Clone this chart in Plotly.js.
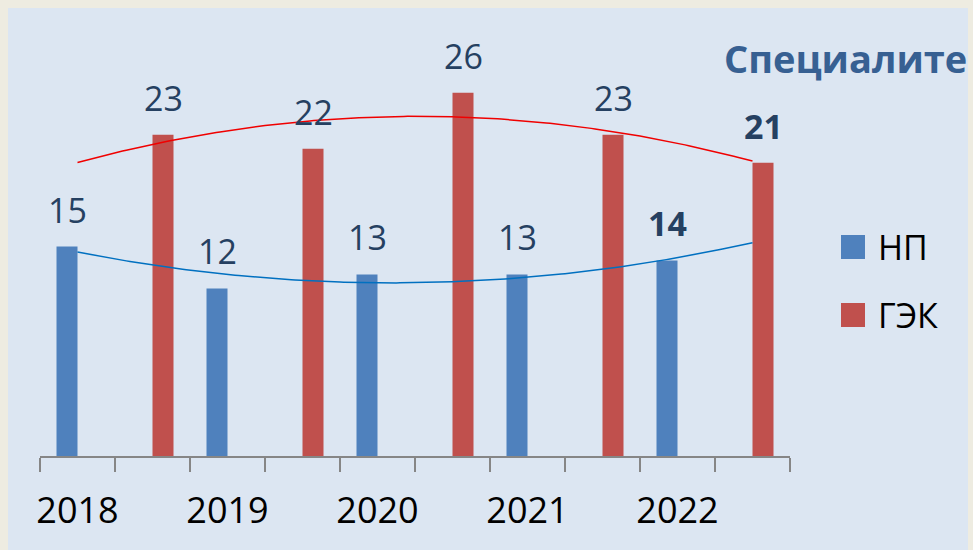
<!DOCTYPE html>
<html>
<head>
<meta charset="utf-8">
<script src="https://cdn.plot.ly/plotly-3.0.1.min.js"></script>
<style>
  html, body { margin: 0; padding: 0; background: #eeece1; width: 973px; height: 550px; overflow: hidden; }
  #chart { position: absolute; left: 8px; top: 8px; width: 960px; height: 542px; overflow: hidden; }
</style>
</head>
<body>
<div id="chart"></div>
<script>
// ---- data ----
const years = ['2018', '2019', '2020', '2021', '2022'];
const npName = 'НП';
const gekName = 'ГЭК';
const npValues = [15, 12, 13, 13, 14];
const gekValues = [23, 22, 26, 23, 21];
const boldYear = [false, false, false, false, true];
const titleText = 'Специалите';

// ---- layout constants ----
const W = 960, H = 542;
const M = { l: 32, r: 178, t: 29, b: 94 };
const OX = 8, OY = 8; // div offset on page
function px(x) { return (x - OX - M.l) / (W - M.l - M.r); }
function py(y) { return 1 - (y - OY - M.t) / (H - M.t - M.b); }

const FONT = '"Open Sans", "Noto Sans", sans-serif';
const labelColor = '#254061';
const blue = '#4f81bd', red = '#c0504d';

// slots: NP at 2i, GEK at 2i+1
const nSlots = years.length * 2;
const slots = Array.from({ length: nSlots }, (_, i) => i);
const npY = slots.map(i => (i % 2 === 0 ? npValues[i / 2] : null));
const gekY = slots.map(i => (i % 2 === 1 ? gekValues[(i - 1) / 2] : null));
const tickText = slots.map(i => (i % 2 === 0 ? years[i / 2] : ''));

// quadratic least squares fit (polynomial trendline, order 2)
function quadFit(xs, ys) {
  let s0 = 0, s1 = 0, s2 = 0, s3 = 0, s4 = 0, t0 = 0, t1 = 0, t2 = 0;
  xs.forEach((x, k) => {
    const y = ys[k];
    s0 += 1; s1 += x; s2 += x * x; s3 += x * x * x; s4 += x * x * x * x;
    t0 += y; t1 += x * y; t2 += x * x * y;
  });
  const A = [[s0, s1, s2, t0], [s1, s2, s3, t1], [s2, s3, s4, t2]];
  for (let c = 0; c < 3; c++) {
    for (let r = c + 1; r < 3; r++) {
      const f = A[r][c] / A[c][c];
      for (let k = c; k < 4; k++) A[r][k] -= f * A[c][k];
    }
  }
  const co = [0, 0, 0];
  for (let r = 2; r >= 0; r--) {
    let s = A[r][3];
    for (let k = r + 1; k < 3; k++) s -= A[r][k] * co[k];
    co[r] = s / A[r][r];
  }
  return x => co[0] + co[1] * x + co[2] * x * x;
}
const npX = npValues.map((_, i) => 2 * i);
const gekX = gekValues.map((_, i) => 2 * i + 1);
const npFit = quadFit(npX, npValues);
const gekFit = quadFit(gekX, gekValues);
const fineX = [];
for (let x = 0; x <= nSlots - 1 + 1e-9; x += 0.05) fineX.push(+x.toFixed(2));

const traces = [
  { type: 'bar', name: npName, x: slots, y: npY, marker: { color: blue }, hoverinfo: 'y' },
  { type: 'bar', name: gekName, x: slots, y: gekY, marker: { color: red }, hoverinfo: 'y' },
  { type: 'scatter', mode: 'lines', x: fineX, y: fineX.map(npFit), line: { color: '#0070c0', width: 1.5 }, hoverinfo: 'skip', showlegend: false },
  { type: 'scatter', mode: 'lines', x: fineX, y: fineX.map(gekFit), line: { color: '#f00000', width: 1.5 }, hoverinfo: 'skip', showlegend: false }
];

const annotations = [];
npValues.forEach((v, i) => {
  annotations.push({
    x: 2 * i, y: v, xref: 'x', yref: 'y', xshift: -10.5, yshift: 12,
    text: boldYear[i] ? '<b>' + v + '</b>' : String(v),
    showarrow: false, yanchor: 'bottom', xanchor: 'center',
    font: { family: FONT, size: 34, color: labelColor }
  });
});
gekValues.forEach((v, i) => {
  annotations.push({
    x: 2 * i + 1, y: v, xref: 'x', yref: 'y', xshift: 10.5, yshift: 12,
    text: boldYear[i] ? '<b>' + v + '</b>' : String(v),
    showarrow: false, yanchor: 'bottom', xanchor: 'center',
    font: { family: FONT, size: 34, color: labelColor }
  });
});
// title
annotations.push({
  xref: 'paper', yref: 'paper', x: px(722), y: py(58), xanchor: 'left', yanchor: 'middle',
  text: '<b>' + titleText + '</b>', showarrow: false,
  font: { family: FONT, size: 38, color: '#376092' }
});
// legend texts
const legendItems = [
  { name: npName, color: blue, cy: 247 },
  { name: gekName, color: red, cy: 315 }
];
const shapes = [];
legendItems.forEach(it => {
  annotations.push({
    xref: 'paper', yref: 'paper', x: px(876), y: py(it.cy), xanchor: 'left', yanchor: 'middle',
    text: it.name, showarrow: false,
    font: { family: FONT, size: 34, color: '#000000' }
  });
  shapes.push({
    type: 'rect', xref: 'paper', yref: 'paper', layer: 'above',
    x0: px(841), x1: px(865), y0: py(it.cy - 12), y1: py(it.cy + 12),
    fillcolor: it.color, line: { width: 0 }
  });
});

const layout = {
  width: W, height: H,
  margin: M,
  paper_bgcolor: '#dce6f2',
  plot_bgcolor: 'rgba(0,0,0,0)',
  barmode: 'group',
  bargap: 0.44,
  bargroupgap: 0,
  showlegend: false,
  font: { family: FONT, color: '#000' },
  xaxis: {
    type: 'linear',
    range: [-0.5, nSlots - 0.5],
    tickmode: 'array',
    tickvals: slots,
    ticktext: tickText,
    showgrid: false, zeroline: false,
    showline: true, linecolor: '#868686', linewidth: 1.5,
    ticks: '',
    tickfont: { family: FONT, size: 36, color: '#000' },
    ticklabelstandoff: 22,
    fixedrange: true
  },
  yaxis: {
    range: [0, 30],
    visible: false,
    fixedrange: true
  },
  annotations: annotations,
  shapes: shapes
};
// boundary ticks drawn as axis minor ticks at slot boundaries
layout.xaxis.minor = {
  tickmode: 'array',
  tickvals: Array.from({ length: nSlots + 1 }, (_, i) => i - 0.5),
  ticks: 'outside', ticklen: 14, tickwidth: 1.5, tickcolor: '#868686', showgrid: false
};

Plotly.newPlot('chart', traces, layout, { displayModeBar: false, staticPlot: true });
</script>
</body>
</html>
